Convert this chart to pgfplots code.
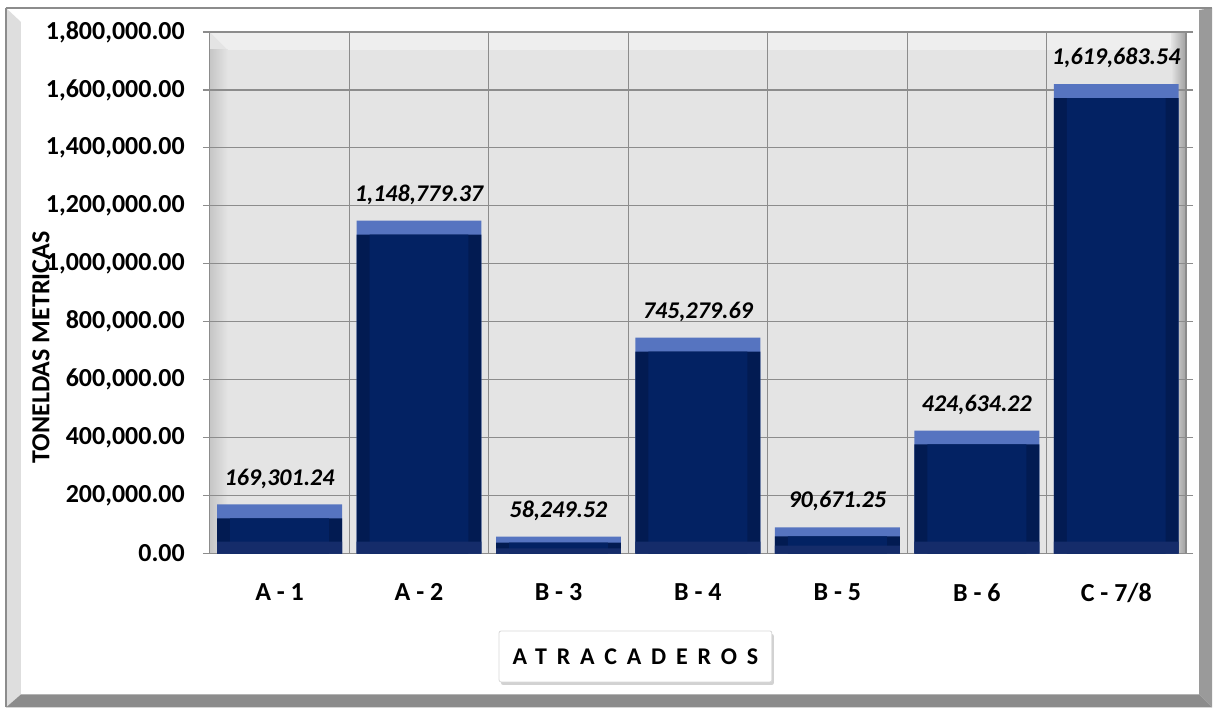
\documentclass[border=0pt]{standalone}
\usepackage{pgfplots}
\pgfplotsset{compat=1.18}
\usepackage{pgfplotstable}
\usepackage{fontspec}
\setmainfont{Carlito}
\usetikzlibrary{shadows}

\definecolor{bandblue}{HTML}{5674C0}
\definecolor{sidenavy}{HTML}{021B52}
\definecolor{mainnavy}{HTML}{032263}
\definecolor{bottomnavy}{HTML}{152C6A}
\definecolor{gridgray}{HTML}{8C8C8C}
\definecolor{plotbg}{HTML}{E4E4E4}
\definecolor{plottop}{HTML}{EEEEEE}
\definecolor{frameleft}{HTML}{DEDEDE}
\definecolor{framebot}{HTML}{8C8C8C}
\definecolor{frameright}{HTML}{9A9A9A}

% toneladas por atracadero
\pgfplotstableread{
x y lab
0 169301.24 169,301.24
1 1148779.37 1,148,779.37
2 58249.52 58,249.52
3 745279.69 745,279.69
4 90671.25 90,671.25
5 424634.22 424,634.22
6 1619683.54 1,619,683.54
}\berths

\begin{document}
\begin{tikzpicture}
% marco y fondo, en pixeles de la imagen
\begin{scope}[x=0.5pt,y=-0.5pt,yshift=354pt]
\fill[white] (0,0) rectangle (1213,708);
\fill[frameleft] (6,8) -- (21,22) -- (21,695) -- (6,708) -- cycle;
\fill[framebot] (6,708) -- (21,695) -- (1200,695) -- (1213,708) -- cycle;
\fill[frameright] (1213,8) -- (1200,10) -- (1200,695) -- (1213,708) -- cycle;
\draw[framebot, line width=1pt] (6,8) -- (1213,8);
\draw[framebot, line width=1pt] (6,8) -- (6,708);
\fill[plotbg] (210,32) rectangle (1187,554);
\fill[plottop] (210,32) -- (1187,32) -- (1170,50) -- (228,50) -- cycle;
\shade[left color=gray!45, right color=plotbg] (210,50) rectangle (228,554);
\shade[left color=plotbg, right color=gray!75] (1172,32) rectangle (1187,554);
\end{scope}

\begin{axis}[
    at={(105pt,77pt)}, anchor=south west,
    scale only axis, width=488.5pt, height=261pt,
    xmin=-0.5, xmax=6.5,
    ymin=0, ymax=1800000,
    xtick={0,1,2,3,4,5,6},
    xticklabels={A - 1,A - 2,B - 3,B - 4,B - 5,B - 6,C - 7/8},
    minor xtick={-0.5,0.5,1.5,2.5,3.5,4.5,5.5,6.5},
    ytick distance=200000,
    xminorgrids=true, ymajorgrids=true,
    major grid style={gridgray, line width=0.6pt},
    minor grid style={gridgray, line width=0.6pt},
    axis line style={gridgray, line width=0.6pt},
    x tick style={draw=none},
    y tick style={gridgray, line width=0.6pt},
    tick align=outside, major tick length=3.5pt,
    scaled y ticks=false,
    xticklabel style={font=\fontsize{13}{15}\selectfont\bfseries, yshift=-8pt},
    yticklabel style={font=\fontsize{13}{15}\selectfont\bfseries, xshift=-5.5pt,
        /pgf/number format/.cd, fixed, fixed zerofill, precision=2, 1000 sep={,}, assume math mode=true},
    ylabel={TONELDAS METRICAS},
    every axis y label/.style={at={(rel axis cs:0,0.395)}, xshift=-84.5pt, rotate=90,
        anchor=center, font=\fontsize{13}{15}\selectfont\bfseries},
    xlabel={\addfontfeature{LetterSpace=41}ATRACADEROS},
    every axis x label/.style={at={(rel axis cs:0.436,0)}, yshift=-51.5pt, anchor=center,
        font=\fontsize{12}{14}\selectfont\bfseries, draw=gray!30, fill=white,
        drop shadow={shadow xshift=1pt, shadow yshift=-1.5pt, opacity=0.35},
        rounded corners=1pt, minimum width=136.5pt, minimum height=25.5pt},
    clip=false,
]

\addplot[ybar, bar width=0.8956, bar shift=0pt, fill=bandblue, draw=none,
    point meta=explicit symbolic, nodes near coords,
    every node near coord/.append style={font=\fontsize{12}{14}\selectfont\bfseries\itshape,
        text=black, yshift=4.5pt}]
    table[x=x, y=y, meta=lab]{\berths};
\addplot[ybar, bar width=0.8956, bar shift=0pt, fill=sidenavy, draw=none]
    table[x=x, y expr={max(\thisrow{y}-48000,0.65*\thisrow{y})}]{\berths};
\addplot[ybar, bar width=0.709, bar shift=0pt, fill=mainnavy, draw=none]
    table[x=x, y expr={max(\thisrow{y}-48000,0.65*\thisrow{y})}]{\berths};
\addplot[ybar, bar width=0.8956, bar shift=0pt, fill=bottomnavy, draw=none]
    table[x=x, y expr={min(41000,0.3*\thisrow{y})}]{\berths};

\end{axis}
\end{tikzpicture}
\end{document}
